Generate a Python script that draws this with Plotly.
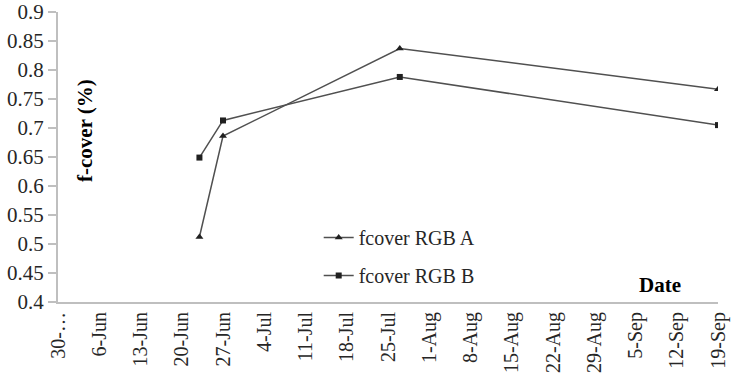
import plotly.graph_objects as go

# Data
dates = ["2013-06-23", "2013-06-27", "2013-07-27", "2013-09-19"]
fcover_a = [0.512, 0.686, 0.837, 0.767]
fcover_b = [0.649, 0.713, 0.788, 0.705]
series_names = ["fcover RGB A", "fcover RGB B"]

tick_dates = ["2013-05-30", "2013-06-06", "2013-06-13", "2013-06-20", "2013-06-27",
              "2013-07-04", "2013-07-11", "2013-07-18", "2013-07-25", "2013-08-01",
              "2013-08-08", "2013-08-15", "2013-08-22", "2013-08-29", "2013-09-05",
              "2013-09-12", "2013-09-19"]
tick_labels = ["30-…", "6-Jun", "13-Jun", "20-Jun", "27-Jun", "4-Jul", "11-Jul", "18-Jul",
               "25-Jul", "1-Aug", "8-Aug", "15-Aug", "22-Aug", "29-Aug", "5-Sep",
               "12-Sep", "19-Sep"]
y_ticks = [0.4, 0.45, 0.5, 0.55, 0.6, 0.65, 0.7, 0.75, 0.8, 0.85, 0.9]
y_labels = ["0.4", "0.45", "0.5", "0.55", "0.6", "0.65", "0.7", "0.75", "0.8", "0.85", "0.9"]

FONT = "Liberation Serif"
line_col = "#505050"
mk_col = "#202020"

fig = go.Figure()
fig.add_trace(go.Scatter(
    x=dates, y=fcover_a, name=series_names[0], mode="lines+markers",
    legendgroup="a",
    line=dict(color=line_col, width=1.5),
    marker=dict(symbol="triangle-up", size=7, color=mk_col),
))
fig.add_trace(go.Scatter(
    x=dates, y=fcover_b, name=series_names[1], mode="lines+markers",
    legendgroup="b",
    line=dict(color=line_col, width=1.5),
    marker=dict(symbol="square", size=6, color=mk_col),
))

fig.update_layout(
    template="none",
    width=732, height=376,
    margin=dict(l=58, r=14, t=12, b=74),
    paper_bgcolor="white", plot_bgcolor="white",
    font=dict(family=FONT, size=20, color="#262626"),
    showlegend=True,
    legend=dict(
        x=0.395, y=0.29, xanchor="left", yanchor="top",
        bgcolor="rgba(0,0,0,0)", borderwidth=0,
        font=dict(family=FONT, size=20, color="#262626"),
        traceorder="grouped", tracegroupgap=9,
    ),
    xaxis=dict(
        type="date",
        range=["2013-05-30", "2013-09-19"],
        tickmode="array", tickvals=tick_dates, ticktext=tick_labels,
        tickangle=-90,
        showgrid=False, zeroline=False,
        showline=True, linecolor="#bfbfbf", linewidth=2,
        ticks="", automargin=False, ticklabeloverflow="allow",
        tickfont=dict(family=FONT, size=20, color="#262626"),
    ),
    yaxis=dict(
        range=[0.4, 0.9],
        tickmode="array", tickvals=y_ticks, ticktext=y_labels,
        showgrid=False, zeroline=False,
        showline=True, linecolor="#bfbfbf", linewidth=2,
        ticks="outside", ticklen=8, tickcolor="#bfbfbf", tickwidth=1.5,
        automargin=False, ticklabeloverflow="allow",
        tickfont=dict(family=FONT, size=21, color="#262626"),
    ),
    annotations=[
        dict(text="<b>f-cover (%)</b>", xref="paper", yref="paper",
             x=0.041, y=0.59, xanchor="center", yanchor="middle",
             textangle=-90, showarrow=False,
             font=dict(family=FONT, size=21, color="#000000")),
        dict(text="<b>Date</b>", xref="paper", yref="paper",
             x=0.912, y=0.058, xanchor="center", yanchor="middle",
             showarrow=False,
             font=dict(family=FONT, size=21, color="#000000")),
    ],
)

fig.write_html("out.html")
